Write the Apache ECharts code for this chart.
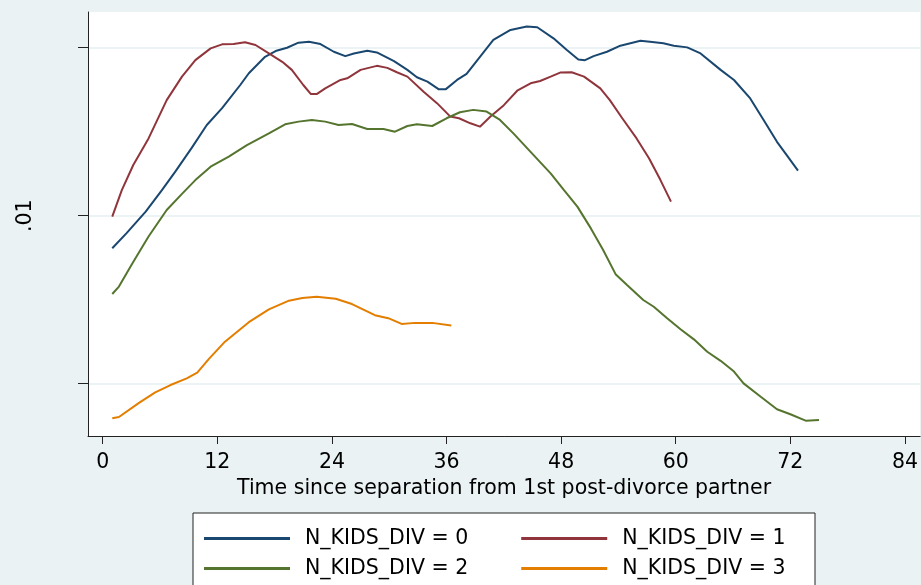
<!DOCTYPE html>
<html>
<head>
<meta charset="utf-8">
<script src="https://cdn.jsdelivr.net/npm/echarts@6/dist/echarts.min.js"></script>
<style>
  html, body { margin: 0; padding: 0; background: #EAF2F3; }
  #chart { width: 921px; height: 585px; }
</style>
</head>
<body>
<div id="chart"></div>
<script>
// Kernel density of months since separation, by number of kids at divorce
const seriesNames = ['N_KIDS_DIV = 0', 'N_KIDS_DIV = 1', 'N_KIDS_DIV = 2', 'N_KIDS_DIV = 3'];

const months0 = [1.0, 2.5, 4.5, 6.2, 7.6, 9.3, 10.9, 12.5, 14.4, 15.3, 17.0, 18.1, 19.3, 20.5, 21.6, 22.8, 24.2, 25.4, 26.3, 27.7, 28.7, 30.5, 31.9, 32.9, 34.0, 35.2, 35.9, 37.1, 38.1, 39.5, 40.9, 42.7, 44.4, 45.5, 47.2, 48.6, 49.8, 50.5, 51.4, 52.8, 54.2, 56.3, 57.3, 58.7, 59.8, 61.2, 62.6, 64.7, 66.1, 67.8, 69.2, 70.6, 71.6, 72.8];
const density0 = [.00903, .00948, .01012, .01076, .01131, .01201, .01270, .01320, .01389, .01424, .01473, .01490, .01500, .01515, .01518, .01511, .01488, .01475, .01483, .01491, .01486, .01460, .01434, .01412, .01399, .01376, .01376, .01404, .01422, .01473, .01523, .01553, .01563, .01561, .01528, .01493, .01465, .01463, .01475, .01488, .01506, .01521, .01518, .01513, .01506, .01501, .01483, .01434, .01404, .01349, .01285, .01220, .01181, .01134];

const months1 = [1.0, 2.0, 3.2, 4.8, 6.7, 8.3, 9.7, 11.3, 12.5, 13.7, 14.9, 16.0, 17.4, 18.8, 19.8, 21.0, 21.8, 22.4, 23.3, 24.9, 25.6, 27.0, 28.7, 29.8, 30.8, 31.9, 33.6, 35.0, 36.4, 37.3, 38.5, 39.5, 40.6, 42.0, 43.4, 44.8, 45.8, 46.9, 47.9, 49.1, 50.4, 52.1, 53.1, 54.4, 55.9, 57.2, 58.4, 59.5];
const density1 = [.00997, .01076, .01151, .01230, .01344, .01414, .01463, .01498, .01510, .01511, .01516, .01508, .01483, .01458, .01434, .01389, .01362, .01362, .01379, .01404, .01409, .01434, .01446, .01440, .01427, .01414, .01369, .01335, .01295, .01290, .01275, .01265, .01295, .01329, .01372, .01394, .01401, .01414, .01426, .01427, .01414, .01379, .01344, .01290, .01230, .01171, .01106, .01042];

const months2 = [1.0, 1.7, 3.1, 4.8, 6.7, 8.3, 9.7, 11.3, 13.2, 15.1, 17.4, 19.1, 20.5, 21.9, 23.3, 24.7, 26.1, 27.7, 29.4, 30.6, 31.9, 32.9, 34.5, 36.0, 37.4, 38.8, 40.2, 41.6, 43.0, 44.8, 46.9, 48.3, 49.7, 51.1, 52.4, 53.7, 54.9, 56.6, 57.7, 59.1, 60.5, 61.9, 63.3, 64.7, 66.1, 67.1, 68.9, 70.6, 72.0, 73.6, 75.0];
const density2 = [.00767, .00789, .00858, .00938, .01017, .01065, .01106, .01146, .01176, .01210, .01245, .01272, .01280, .01285, .01280, .01270, .01273, .01258, .01258, .01250, .01267, .01272, .01267, .01290, .01308, .01315, .01310, .01285, .01245, .01190, .01126, .01076, .01027, .00963, .00898, .00826, .00794, .00749, .00729, .00695, .00662, .00632, .00595, .00568, .00536, .00501, .00461, .00424, .00409, .00390, .00392];

const months3 = [1.0, 1.7, 3.8, 5.5, 7.1, 8.8, 9.9, 11.1, 12.8, 15.3, 17.4, 19.5, 20.9, 22.4, 24.4, 26.1, 28.5, 29.9, 31.3, 32.7, 34.5, 36.5];
const density3 = [.00397, .00401, .00443, .00474, .00496, .00516, .00533, .00573, .00625, .00683, .00721, .00747, .00755, .00759, .00753, .00737, .00704, .00695, .00678, .00681, .00681, .00673];

// Axis ticks and labels
const xTicks = [0, 12, 24, 36, 48, 60, 72, 84];
const yTicks = [0.005, 0.01, 0.015];
const yLabels = [0.01];

const colors = ['#1a476f', '#90353b', '#55752f', '#e37e00'];
const FONT = '"DejaVu Sans", "Liberation Sans", Arial, sans-serif';
const FONT_SIZE = 20.5;

const allMonths = [months0, months1, months2, months3];
const allDensity = [density0, density1, density2, density3];

const curveSeries = seriesNames.map((name, i) => ({
  name: name,
  type: 'line',
  symbol: 'none',
  showSymbol: false,
  z: 3,
  color: colors[i],
  lineStyle: { width: 2, color: colors[i] },
  data: allMonths[i].map((m, j) => [m, allDensity[i][j]])
}));

const chart = echarts.init(document.getElementById('chart'), null, { renderer: 'canvas' });

const legendCommon = {
  orient: 'horizontal',
  padding: 0,
  icon: 'rect',
  itemWidth: 86,
  itemHeight: 3,
  itemGap: 53,
  selectedMode: false,
  z: 10,
  textStyle: {
    fontFamily: FONT,
    fontSize: FONT_SIZE,
    color: '#000',
    padding: [0, 0, 0, 10]
  }
};

chart.setOption({
  animation: false,
  backgroundColor: '#EAF2F3',
  textStyle: { fontFamily: FONT },
  grid: {
    left: 88, top: 12, right: 0, bottom: 149,
    show: true, backgroundColor: '#ffffff', borderWidth: 0
  },
  graphic: [{
    type: 'rect',
    z: 5,
    shape: { x: 193, y: 513, width: 622, height: 90 },
    style: { fill: '#ffffff', stroke: '#222', lineWidth: 1 }
  }],
  legend: [
    Object.assign({}, legendCommon, { data: [seriesNames[0], seriesNames[1]], left: 204, top: 528 }),
    Object.assign({}, legendCommon, { data: [seriesNames[2], seriesNames[3]], left: 204, top: 558 })
  ],
  xAxis: {
    type: 'value',
    min: -1.54,
    max: 85.59,
    name: 'Time since separation from 1st post-divorce partner',
    nameLocation: 'middle',
    nameGap: 39,
    nameTextStyle: { fontFamily: FONT, fontSize: FONT_SIZE, color: '#000' },
    axisLine: { show: true, onZero: false, lineStyle: { color: '#222', width: 1 } },
    axisTick: { show: true, length: 8, customValues: xTicks, lineStyle: { color: '#222' } },
    axisLabel: { customValues: xTicks, fontFamily: FONT, fontSize: FONT_SIZE, color: '#000', margin: 16 },
    splitLine: { show: false }
  },
  yAxis: {
    type: 'value',
    min: 0.003443,
    max: 0.016063,
    axisLine: { show: true, onZero: false, lineStyle: { color: '#222', width: 1 } },
    axisTick: { show: true, length: 10, customValues: yTicks, lineStyle: { color: '#222' } },
    axisLabel: {
      customValues: yLabels,
      rotate: 90,
      margin: 52,
      fontFamily: FONT, fontSize: FONT_SIZE, color: '#000',
      formatter: v => String(v).replace(/^0/, '')
    },
    splitLine: { show: true, lineStyle: { color: '#E6EFF1', width: 1.5 } }
  },
  series: curveSeries
});
</script>
</body>
</html>
